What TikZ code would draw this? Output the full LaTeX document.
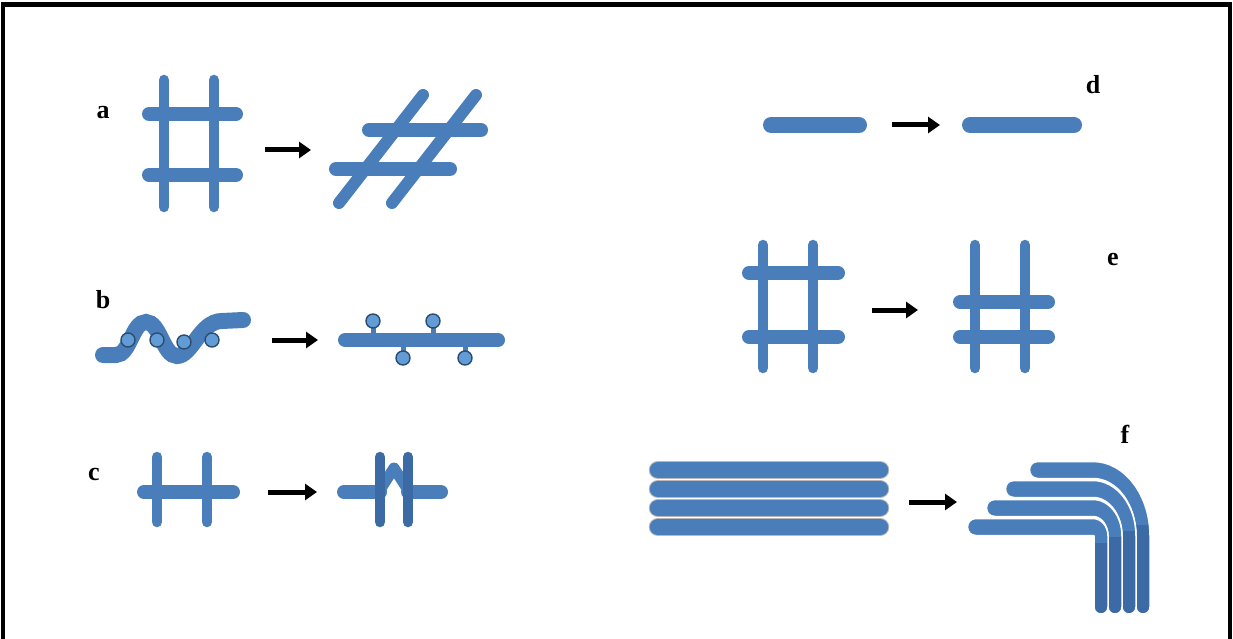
\documentclass[tikz,border=0pt]{standalone}
\usepackage{fontspec}
\setmainfont{Liberation Serif}
\usetikzlibrary{arrows.meta}
\definecolor{rodblue}{RGB}{74,126,187}
\definecolor{roddark}{RGB}{60,106,164}
\definecolor{beadblue}{RGB}{98,156,214}

\begin{document}
\begin{tikzpicture}[x=1pt, y=-1pt, >={Triangle[length=12pt,width=16pt]}]
    \tikzstyle{every node} = [font=\fontsize{26}{26}\bfseries\selectfont, inner sep=0pt]
    \tikzstyle{rod} = [rodblue, line cap=round]
    \tikzstyle{thin rod} = [rod, line width=10.5]
    \tikzstyle{thick rod} = [rod, line width=14]
    \tikzstyle{stack rod} = [draw=gray!55, double=rodblue, double distance=16.5, line width=1, line cap=round]
    \tikzstyle{bead} = [fill=beadblue, draw=rodblue!60!black, line width=1.4]
    \tikzstyle{turn} = [->, line width=5, black]

    \useasboundingbox (0,0) rectangle (1233,639);
    \draw[line width=4.5] (3,639) -- (3,4.5) -- (1230,4.5) -- (1230,639);

    \node (lbl-a) at (103,113) {a};
    \node (lbl-b) at (103,300) {b};
    \node (lbl-c) at (94,474) {c};
    \node (lbl-d) at (1093,85) {d};
    \node (lbl-e) at (1113,260) {e};
    \node (lbl-f) at (1125,434) {f};

    % a: square grid sheared
    \draw[thin rod] (164,80) -- (164,207) (214,80) -- (214,207);
    \draw[thick rod] (149,114) -- (236,114) (149,175) -- (236,175);
    \coordinate (a-in) at (265,150);
    \coordinate (a-out) at (311,150);
    \draw[turn] (a-in) -- (a-out);
    \draw[rod, line width=12] (339,203) -- (423,95) (392,203) -- (476,95);
    \draw[thick rod] (369,130) -- (481,130) (336,169) -- (450,169);

    % b: wavy strand straightened
    \draw[rod, line width=16] (103,355) -- (116,355)
        .. controls (130,355) and (132,322) .. (146,322)
        .. controls (160,322) and (163,356) .. (177,356)
        .. controls (192,356) and (200,321) .. (222,321) -- (243,320);
    \foreach \x/\y in {128/340, 157/340, 184/342, 212/340}
        \draw[bead] (\x,\y) circle (7);
    \coordinate (b-in) at (272,340);
    \coordinate (b-out) at (318,340);
    \draw[turn] (b-in) -- (b-out);
    \draw[thick rod] (345,340) -- (498,340);
    \foreach \x/\y in {373/321, 433/321, 403/358, 465/358} {
        \draw[rod, line width=5] (\x,340) -- (\x,\y);
        \draw[bead] (\x,\y) circle (7);
    }

    % c: crossing point lifted
    \draw[thin rod] (157,457) -- (157,522) (207,457) -- (207,522);
    \draw[thick rod] (144,492) -- (233,492);
    \coordinate (c-in) at (268,492);
    \coordinate (c-out) at (317,492);
    \draw[turn] (c-in) -- (c-out);
    \draw[thick rod] (344,492) -- (380,492) (408,492) -- (441,492);
    \draw[rod, line width=11, line join=round] (380,490) -- (394,468) -- (408,490);
    \draw[thin rod, roddark] (380,457) -- (380,522) (408,457) -- (408,522);

    % d: stretched rod
    \draw[rod, line width=16] (771,125) -- (859,125);
    \coordinate (d-in) at (892,125);
    \coordinate (d-out) at (940,125);
    \draw[turn] (d-in) -- (d-out);
    \draw[rod, line width=16] (970,125) -- (1074,125);

    % e: crossbars slide together
    \draw[thin rod] (763,245) -- (763,368) (813,245) -- (813,368);
    \draw[thick rod] (749,273) -- (838,273) (749,337) -- (838,337);
    \coordinate (e-in) at (872,310);
    \coordinate (e-out) at (918,310);
    \draw[turn] (e-in) -- (e-out);
    \draw[thin rod] (975,245) -- (975,368) (1025,245) -- (1025,368);
    \draw[thick rod] (960,302) -- (1048,302) (960,337) -- (1048,337);

    % f: layered stack bent round a corner
    \foreach \y in {470,489,508,527}
        \draw[stack rod] (658,\y) -- (880,\y);
    \coordinate (f-in) at (909,502);
    \coordinate (f-out) at (957,502);
    \draw[turn] (f-in) -- (f-out);
    \foreach \i/\xl in {0/1038, 1/1014, 2/995, 3/976} {
        \pgfmathsetmacro\yh{470+19*\i}
        \pgfmathsetmacro\xv{1143-14*\i}
        \pgfmathsetmacro\rx{50-14*\i}
        \pgfmathsetmacro\ry{66-19*\i}
        \pgfmathsetmacro\cx{\xv-\rx}
        \pgfmathsetmacro\cy{\yh+\ry}
        \pgfmathsetmacro\ox{0.552*(\rx+7)}
        \pgfmathsetmacro\oy{0.552*(\ry+8.5)}
        \pgfmathsetmacro\ix{0.552*(\rx-7)}
        \pgfmathsetmacro\iy{0.552*(\ry-8.5)}
        \def\bentbar{(\xl,\yh-8.5) -- (\cx,\yh-8.5)
            .. controls (\cx+\ox,\yh-8.5) and (\xv+7,\cy-\oy) .. (\xv+7,\cy)
            -- (\xv+7,607) .. controls (\xv+7,616.3) and (\xv-7,616.3) .. (\xv-7,607)
            -- (\xv-7,\cy) .. controls (\xv-7,\cy-\iy) and (\cx+\ix,\yh+8.5) .. (\cx,\yh+8.5)
            -- (\xl,\yh+8.5) .. controls (\xl-11.3,\yh+8.5) and (\xl-11.3,\yh-8.5) .. cycle}
        \fill[rodblue] \bentbar;
        \begin{scope}
            \clip (\xv-7.5,525+6*\i) rectangle (\xv+7.5,630);
            \fill[roddark] \bentbar;
        \end{scope}
        \draw[white, line width=1.5] \bentbar;
    }
\end{tikzpicture}
\end{document}
